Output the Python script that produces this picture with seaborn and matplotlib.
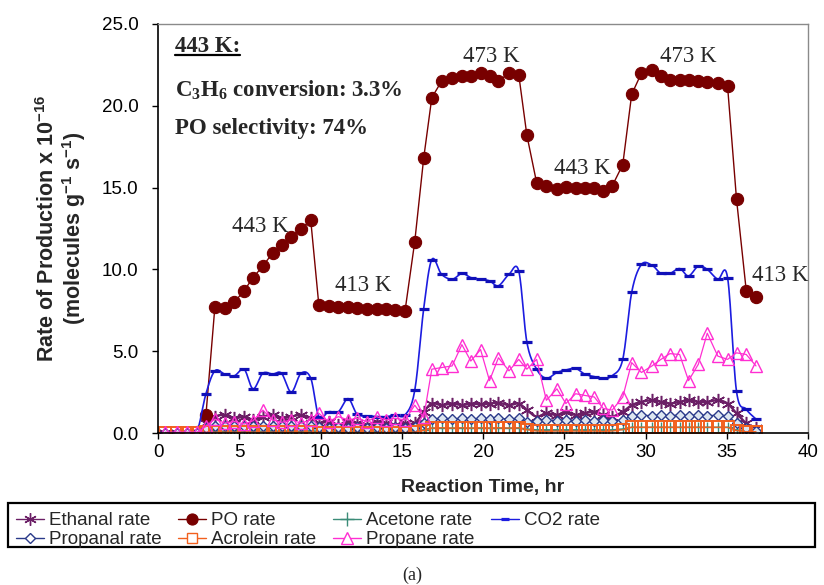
import numpy as np
import pandas as pd
import matplotlib
matplotlib.use("Agg")
import matplotlib.pyplot as plt
import seaborn as sns
from matplotlib import font_manager
from matplotlib.lines import Line2D
from matplotlib.patches import Rectangle

# ---------------- data ----------------
time_hr = [0.45, 1.15, 1.8, 2.4, 2.95, 3.5, 4.1, 4.7, 5.3, 5.85, 6.45, 7.05, 7.6, 8.2, 8.8, 9.4,
           9.9, 10.5, 11.1, 11.7, 12.25, 12.85, 13.45, 14.05, 14.6, 15.2, 15.8, 16.35,
           16.85, 17.45, 18.1, 18.7, 19.25, 19.85, 20.4, 20.95, 21.6, 22.2, 22.7,
           23.3, 23.9, 24.55, 25.1, 25.7, 26.25, 26.85, 27.4, 27.95, 28.6,
           29.15, 29.75, 30.4, 30.95, 31.5, 32.1, 32.65, 33.25, 33.8, 34.45, 35.05,
           35.6, 36.2, 36.8]

po_time = time_hr[4:]
po_rate = [1.1, 7.7, 7.65, 8.0, 8.7, 9.5, 10.2, 11.0, 11.5, 12.0, 12.5, 13.0,
           7.8, 7.75, 7.7, 7.7, 7.65, 7.6, 7.6, 7.55, 7.5, 7.45,
           11.7, 16.8,
           20.5, 21.5, 21.7, 21.8, 21.8, 22.0, 21.8, 21.5, 22.0, 21.9,
           18.2,
           15.3, 15.1, 14.9, 15.05, 15.0, 15.0, 15.0, 14.8, 15.1,
           16.4,
           20.7, 22.0, 22.2, 21.8, 21.6, 21.6, 21.6, 21.5, 21.45, 21.4, 21.2,
           14.3, 8.7, 8.3]

co2_rate = [0.0, 0.0, 0.0, 0.1,
            2.4, 3.8, 3.6, 3.5, 3.9, 2.7, 3.65, 3.6, 3.65, 2.5, 3.65, 3.35,
            1.0, 1.3, 1.3, 2.1, 1.15, 1.05, 1.0, 1.0, 1.1, 1.1,
            2.6, 7.6,
            10.6, 9.7, 9.4, 9.75, 9.5, 9.4, 9.3, 9.0, 9.7, 9.9,
            5.55,
            3.9, 3.35, 3.7, 3.85, 3.95, 3.6, 3.45, 3.35, 3.5,
            4.5,
            8.6, 10.3, 10.25, 9.75, 9.75, 10.05, 9.6, 10.2, 10.0, 9.4, 9.5,
            2.55, 1.45, 0.85]

ethanal_rate = [0.0, 0.0, 0.0, 0.05,
                0.6, 1.0, 1.1, 0.9, 1.0, 0.8, 1.0, 1.1, 0.9, 1.0, 1.1, 0.9,
                0.6, 0.7, 0.5, 0.7, 0.6, 0.5, 0.7, 0.6, 0.5, 0.6,
                0.6, 1.3,
                1.8, 1.7, 1.8, 1.7, 1.8, 1.75, 1.8, 1.85, 1.7, 1.8,
                1.4,
                1.0, 1.2, 1.1, 1.3, 1.1, 1.2, 1.3, 1.1, 1.0,
                1.3,
                1.7, 1.9, 2.0, 1.9, 1.8, 1.9, 2.0, 1.9, 1.9, 2.0, 1.8,
                1.2, 0.6, 0.3]

propanal_rate = [0.0, 0.0, 0.0, 0.0,
                 0.3, 0.4, 0.45, 0.4, 0.45, 0.4, 0.45, 0.4, 0.45, 0.4, 0.45, 0.4,
                 0.35, 0.3, 0.35, 0.3, 0.35, 0.3, 0.35, 0.3, 0.35, 0.3,
                 0.35, 0.6,
                 0.85, 0.9, 0.85, 0.9, 0.85, 0.9, 0.85, 0.9, 0.85, 0.9,
                 0.7,
                 0.75, 0.8, 0.75, 0.8, 0.75, 0.8, 0.75, 0.8, 0.75,
                 0.8,
                 1.05, 1.1, 1.05, 1.1, 1.05, 1.1, 1.05, 1.1, 1.05, 1.1, 1.05,
                 0.6, 0.3, 0.15]

acetone_rate = [0.0, 0.0, 0.0, 0.0,
                0.1, 0.15, 0.1, 0.15, 0.1, 0.15, 0.1, 0.15, 0.1, 0.15, 0.1, 0.15,
                0.1, 0.1, 0.1, 0.1, 0.1, 0.1, 0.1, 0.1, 0.1, 0.1,
                0.15, 0.2,
                0.3, 0.3, 0.3, 0.3, 0.3, 0.3, 0.3, 0.3, 0.3, 0.3,
                0.25,
                0.2, 0.2, 0.2, 0.2, 0.2, 0.2, 0.2, 0.2, 0.2,
                0.25,
                0.35, 0.35, 0.35, 0.35, 0.35, 0.35, 0.35, 0.35, 0.35, 0.35, 0.35,
                0.2, 0.1, 0.1]

acrolein_rate = [0.02, 0.02, 0.02, 0.02,
                 0.05, 0.05, 0.05, 0.05, 0.05, 0.05, 0.05, 0.05, 0.05, 0.05, 0.05, 0.05,
                 0.03, 0.03, 0.03, 0.03, 0.03, 0.03, 0.03, 0.03, 0.03, 0.03,
                 0.05, 0.15,
                 0.3, 0.32, 0.3, 0.32, 0.3, 0.32, 0.3, 0.32, 0.3, 0.32,
                 0.2,
                 0.12, 0.1, 0.12, 0.1, 0.12, 0.1, 0.12, 0.1, 0.12,
                 0.2,
                 0.35, 0.35, 0.35, 0.35, 0.35, 0.35, 0.35, 0.35, 0.35, 0.35, 0.35,
                 0.15, 0.08, 0.08]

propane_rate = [0.05, 0.05, 0.05, 0.05,
                0.4, 0.85, 0.6, 0.7, 0.55, 0.75, 1.4, 0.8, 0.65, 0.8, 0.6, 0.8,
                1.2, 0.7, 1.0, 0.8, 0.9, 0.7, 1.0, 0.8, 0.9, 0.8,
                1.7, 0.95,
                3.9, 4.0, 4.1, 5.4, 4.4, 5.1, 3.2, 4.6, 3.8, 4.5, 3.9, 4.5,
                2.0, 2.7, 1.8, 2.4, 2.3, 2.2, 1.5, 1.4, 2.2,
                4.3, 3.7, 4.1, 4.5, 4.85, 4.8, 3.2, 4.2, 6.1, 4.7, 4.5, 4.9, 4.8, 4.1]

temp_labels = ["443 K", "413 K", "473 K", "443 K", "473 K", "413 K"]
temp_label_t = [6.3, 12.6, 20.5, 26.1, 32.6, 38.3]
temp_label_v = [12.3, 8.65, 22.7, 15.85, 22.7, 9.3]

x_ticks = [0, 5, 10, 15, 20, 25, 30, 35, 40]
y_ticks = [0.0, 5.0, 10.0, 15.0, 20.0, 25.0]

# ---------------- style ----------------
sns.set_style("ticks")
names = {f.name for f in font_manager.fontManager.ttflist}
SANS = "Liberation Sans Narrow" if "Liberation Sans Narrow" in names else "Liberation Sans"
plt.rcParams["font.family"] = [SANS, "DejaVu Sans"]
plt.rcParams["mathtext.default"] = "regular"
SERIF = ["Liberation Serif", "DejaVu Serif"]

C_ETH = "#6B1F66"
C_PO = "#780000"
C_ACE = "#3B8C78"
C_CO2 = "#1C1CE0"
C_CO2M = "#1010B8"
C_PAL = "#2A3A8A"
C_ACR = "#F2601E"
C_PRO = "#FF2ED2"


def smooth(x, y, n=14):
    """Catmull-Rom smoothing like a spreadsheet 'smoothed line'."""
    x = np.asarray(x, float)
    y = np.asarray(y, float)
    px = np.concatenate([[2 * x[0] - x[1]], x, [2 * x[-1] - x[-2]]])
    py = np.concatenate([[2 * y[0] - y[1]], y, [2 * y[-1] - y[-2]]])
    s = np.linspace(0, 1, n, endpoint=False)
    h00 = 2 * s**3 - 3 * s**2 + 1
    h10 = s**3 - 2 * s**2 + s
    h01 = -2 * s**3 + 3 * s**2
    h11 = s**3 - s**2
    xs, ys = [], []
    for i in range(1, len(px) - 2):
        for p, out in ((px, xs), (py, ys)):
            m1 = (p[i + 1] - p[i - 1]) / 2
            m2 = (p[i + 2] - p[i]) / 2
            out.extend(h00 * p[i] + h10 * m1 + h01 * p[i + 1] + h11 * m2)
    xs.append(x[-1])
    ys.append(y[-1])
    return np.array(xs), np.array(ys)


fig = plt.figure(figsize=(8.24, 5.85), dpi=100)
ax = fig.add_axes([158 / 824, 1 - 433 / 585, (808 - 158) / 824, (433 - 24) / 585])


def draw(x, y, color, marker, ms, mfc, mew, lw=0.9, ls="-"):
    sns.lineplot(x=x, y=y, ax=ax, color=color, marker=marker, markersize=ms,
                 markerfacecolor=mfc, markeredgecolor=color, markeredgewidth=mew,
                 linewidth=lw, linestyle=ls, estimator=None, sort=False, legend=False)


# Ethanal (smoothed line + asterisks)
ex, ey = smooth(time_hr, ethanal_rate)
sns.lineplot(x=ex, y=ey, ax=ax, color=C_ETH, linewidth=1.7, estimator=None, sort=False, legend=False)
draw(time_hr, ethanal_rate, C_ETH, (6, 2, 0), 9.5, C_ETH, 1.1, ls="none")
# PO
draw(po_time, po_rate, C_PO, "o", 8.8, C_PO, 0.8, lw=1.0)
# Acetone
draw(time_hr, acetone_rate, C_ACE, "+", 7, C_ACE, 1.0)
# CO2 (smoothed line + dash markers)
cx, cy = smooth(time_hr, co2_rate)
sns.lineplot(x=cx, y=cy, ax=ax, color=C_CO2, linewidth=1.2, estimator=None, sort=False, legend=False)
draw(time_hr, co2_rate, C_CO2M, "_", 7, C_CO2M, 2.3, ls="none")
# Propanal
draw(time_hr, propanal_rate, C_PAL, "D", 5, "#DDE6F0", 1.0)
# Acrolein
draw(time_hr, acrolein_rate, C_ACR, "s", 8.5, "none", 1.4)
# Propane
draw(time_hr, propane_rate, C_PRO, "^", 9, "none", 1.0)

# ---------------- axes ----------------
ax.set_xlim(0, 40)
ax.set_ylim(0, 25)
ax.set_xticks(x_ticks)
ax.set_yticks(y_ticks)
ax.set_xticklabels([str(v) for v in x_ticks])
ax.set_yticklabels([f"{v:.1f}" for v in y_ticks])
ax.tick_params(axis="both", direction="out", length=4, width=1, labelsize=13.5, colors="black")
ax.tick_params(axis="x", pad=4)
ax.tick_params(axis="y", pad=10)
for side in ("left", "bottom"):
    ax.spines[side].set_color("black")
    ax.spines[side].set_linewidth(1.2)
for side in ("top", "right"):
    ax.spines[side].set_visible(True)
    ax.spines[side].set_color("#8a8a8a")
    ax.spines[side].set_linewidth(1.0)

ax.set_xlabel("Reaction Time, hr", fontsize=14, fontweight="bold", labelpad=13)
ax.set_ylabel("Rate of Production x 10$^{-16}$\n(molecules g$^{-1}$ s$^{-1}$)",
              fontsize=15.5, fontweight="bold", labelpad=10, linespacing=1.05,
              family=["Liberation Sans", "DejaVu Sans"])

# temperature labels
for lab, t, v in zip(temp_labels, temp_label_t, temp_label_v):
    ax.text(t, v, lab, family=SERIF, fontsize=16.5, ha="center", va="baseline")

# condition block
t1 = ax.text(1.05, 23.3, "443 K:", family=SERIF, fontsize=16.5, fontweight="bold", va="baseline")
ax.text(1.05, 20.55, "C$_3$H$_6$ conversion: 3.3%", family=SERIF, fontsize=16.5,
        fontweight="bold", va="baseline")
ax.text(1.05, 18.3, "PO selectivity: 74%", family=SERIF, fontsize=16.5,
        fontweight="bold", va="baseline")

# ---------------- legend ----------------
def h(color, marker, ms, mfc, mew, lw=1.0):
    return Line2D([0], [0], color=color, marker=marker, markersize=ms, markerfacecolor=mfc,
                  markeredgecolor=color, markeredgewidth=mew, linewidth=lw)

handles = [h(C_ETH, (6, 2, 0), 9, C_ETH, 1.0), h(C_PAL, "D", 5, "white", 1.0),
           h(C_PO, "o", 8, C_PO, 0.8), h(C_ACR, "s", 7, "white", 1.0),
           h(C_ACE, "+", 10, C_ACE, 1.0), h(C_PRO, "^", 8, "white", 1.0),
           h(C_CO2, "_", 6, C_CO2M, 2.3)]
labels = ["Ethanal rate", "Propanal rate", "PO rate", "Acrolein rate",
          "Acetone rate", "Propane rate", "CO2 rate"]
fig.legend(handles, labels, ncol=4, loc="upper left", bbox_to_anchor=(16 / 824, 1 - 512 / 585),
           frameon=False, fontsize=13.5, handlelength=1.5, handletextpad=0.25,
           columnspacing=0.9, labelspacing=0.1, borderpad=0, borderaxespad=0)
fig.patches.append(Rectangle((8 / 824, 1 - 547 / 585), 807 / 824, 44 / 585,
                             transform=fig.transFigure, fill=False, lw=1.6, ec="black"))

fig.text(412 / 824, 1 - 575 / 585, "(a)", family=SERIF, fontsize=13, ha="center", va="center")

# underline for "443 K:"
fig.canvas.draw()
bb = t1.get_window_extent()
inv = fig.transFigure.inverted()
(x0, y0), (x1, _) = inv.transform([(bb.x0, bb.y0 + 1.5), (bb.x1, bb.y0 + 1.5)])
fig.add_artist(Line2D([x0, x1], [y0, y0], transform=fig.transFigure, color="black", lw=1.6))

fig.savefig("out.png", dpi=100)
